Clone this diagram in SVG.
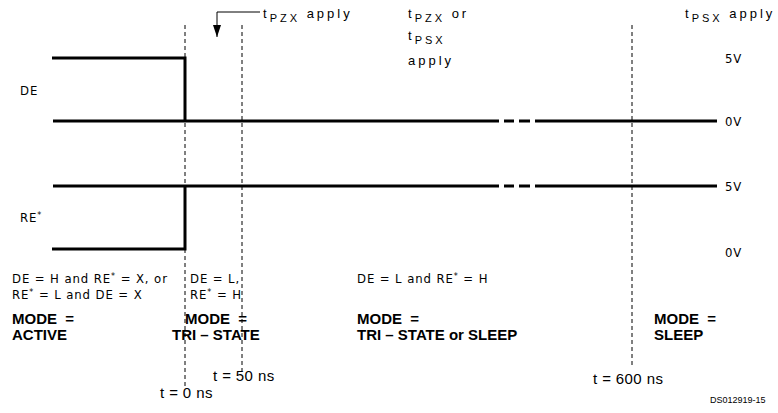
<svg xmlns="http://www.w3.org/2000/svg" width="778" height="413" viewBox="0 0 778 413">
<defs>
<style>
.w{stroke:#000;stroke-width:3;fill:none}
.d{stroke:#000;stroke-width:1;fill:none;stroke-dasharray:4,3}
.t{font-family:"Liberation Sans Narrow","DejaVu Sans Condensed","Liberation Sans",sans-serif;font-size:13px;letter-spacing:0.9px;fill:#000}
.s{font-family:"Liberation Sans",sans-serif;font-size:13px;fill:#000;letter-spacing:3px}
.b{font-family:"Liberation Sans",sans-serif;font-size:15px;font-weight:bold;fill:#000}
.n{font-family:"Liberation Sans",sans-serif;font-size:15px;letter-spacing:0.4px;fill:#000}
.sup{font-size:9px}
</style>
<marker id="ah" markerWidth="12" markerHeight="8" refX="12" refY="4" orient="auto" markerUnits="userSpaceOnUse" viewBox="0 0 12 8">
<path d="M0,0 L12,4 L0,8 Z" fill="#000"/>
</marker>
</defs>
<rect width="778" height="413" fill="#fff"/>
<g id="connectors">
<path class="d" d="M185,25 V386"/>
<path class="d" d="M242,25 V371"/>
<path class="d" d="M632,25 V368"/>
<path d="M260,12 H217 V37" stroke="#000" stroke-width="1" fill="none" marker-end="url(#ah)"/>
</g>
<g id="de-wave">
<path class="w" d="M52,58 H185 V121"/>
<path class="w" d="M53,121 H499 M504,121 H514 M519,121 H530 M535,121 H717"/>
</g>
<g id="re-wave">
<path class="w" d="M53,186 H499 M504,186 H514 M519,186 H530 M535,186 H717"/>
<path class="w" d="M52,249 H185 V186"/>
</g>
<g id="labels">
<text class="t" x="20" y="95">DE</text>
<text class="t" x="20" y="222">RE<tspan class="sup" baseline-shift="4">*</tspan></text>
<text class="t" x="725" y="63">5V</text>
<text class="t" x="725" y="126">0V</text>
<text class="t" x="725" y="191">5V</text>
<text class="t" x="725" y="257">0V</text>
<text class="s" x="263" y="18">t<tspan font-size="11" baseline-shift="-4">PZX</tspan>  apply</text>
<text class="s" x="408" y="18">t<tspan font-size="11" baseline-shift="-4">PZX</tspan>  or</text>
<text class="s" x="408" y="40">t<tspan font-size="11" baseline-shift="-4">PSX</tspan></text>
<text class="s" x="408" y="65">apply</text>
<text class="s" x="685" y="18">t<tspan font-size="11" baseline-shift="-4">PSX</tspan>  apply</text>
</g>
<g id="conditions">
<text class="t" x="12" y="283">DE = H and RE<tspan class="sup" baseline-shift="4">*</tspan> = X, or</text>
<text class="t" x="12" y="299">RE<tspan class="sup" baseline-shift="4">*</tspan> = L and DE = X</text>
<text class="t" x="190" y="283">DE = L,</text>
<text class="t" x="190" y="299">RE<tspan class="sup" baseline-shift="4">*</tspan> = H</text>
<text class="t" x="357" y="283">DE = L and RE<tspan class="sup" baseline-shift="4">*</tspan> = H</text>
</g>
<g id="modes">
<text class="b" x="12" y="324" xml:space="preserve">MODE  =</text>
<text class="b" x="12" y="340">ACTIVE</text>
<text class="b" x="185" y="324" xml:space="preserve">MODE  =</text>
<text class="b" x="172" y="340">TRI – STATE</text>
<text class="b" x="357" y="324" xml:space="preserve">MODE  =</text>
<text class="b" x="357" y="340">TRI – STATE or SLEEP</text>
<text class="b" x="654" y="324" xml:space="preserve">MODE  =</text>
<text class="b" x="654" y="340">SLEEP</text>
</g>
<g id="times">
<text class="n" x="160" y="398">t = 0 ns</text>
<text class="n" x="213" y="381">t = 50 ns</text>
<text class="n" x="593" y="384">t = 600 ns</text>
<text font-family="Liberation Sans,sans-serif" font-size="9" x="710" y="403">DS012919-15</text>
</g>
</svg>
